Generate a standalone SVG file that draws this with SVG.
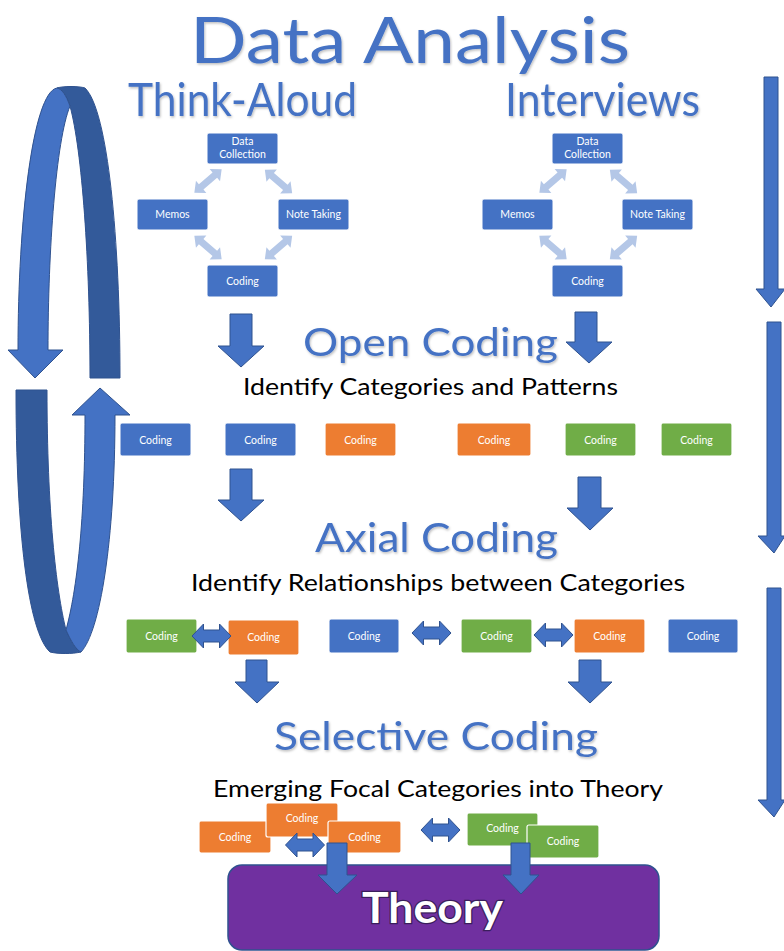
<svg xmlns="http://www.w3.org/2000/svg" xmlns:xlink="http://www.w3.org/1999/xlink" width="784" height="951" viewBox="0 0 784 951">
<defs>
<style>
.title{font-family:Lato,"Liberation Sans",sans-serif;fill:#4472C4;}
.sub{font-family:Lato,"Liberation Sans",sans-serif;fill:#000;font-size:23px;}
.lbl{font-family:Lato,"Liberation Sans",sans-serif;fill:#fff;font-size:10.5px;text-anchor:middle;}
.blue{fill:#4472C4;stroke:#fff;stroke-width:1;}
.orange{fill:#ED7D31;stroke:#fff;stroke-width:1.2;}
.green{fill:#70AD47;stroke:#fff;stroke-width:1.2;}
.barrow{fill:#4472C4;stroke:#2F528F;stroke-width:1;}
.light{fill:#B4C7E7;}
.dark{fill:#335A9A;stroke:#2F528F;stroke-width:1;}
</style>
<filter id="sh" x="-5%" y="-5%" width="110%" height="120%">
<feDropShadow dx="1" dy="1.5" stdDeviation="1" flood-color="#000" flood-opacity="0.25"/>
</filter>
<polygon id="dblL" class="light" points="-18,0 -9,-8 -9,-3.5 9,-3.5 9,-8 18,0 9,8 9,3.5 -9,3.5 -9,8"/>
<polygon id="dblB" class="barrow" points="-19.5,0 -8,-12 -8,-6 8,-6 8,-12 19.5,0 8,12 8,6 -8,6 -8,12"/>
</defs>
<rect width="784" height="951" fill="#fff"/>

<!-- Titles -->
<g id="titles" filter="url(#sh)">
<text class="title" x="190" y="63" font-size="63" textLength="440" lengthAdjust="spacingAndGlyphs">Data Analysis</text>
<text class="title" x="128" y="116" font-size="46" textLength="229" lengthAdjust="spacingAndGlyphs">Think-Aloud</text>
<text class="title" x="505" y="116" font-size="46" textLength="195" lengthAdjust="spacingAndGlyphs">Interviews</text>
<text class="title" x="303" y="356" font-size="39" textLength="255" lengthAdjust="spacingAndGlyphs">Open Coding</text>
<text class="title" x="315" y="552" font-size="40" textLength="243" lengthAdjust="spacingAndGlyphs">Axial Coding</text>
<text class="title" x="274" y="750" font-size="39" textLength="324" lengthAdjust="spacingAndGlyphs">Selective Coding</text>
</g>
<g id="subtitles">
<text class="sub" x="243" y="395" textLength="375" lengthAdjust="spacingAndGlyphs">Identify Categories and Patterns</text>
<text class="sub" x="191" y="591" textLength="494" lengthAdjust="spacingAndGlyphs">Identify Relationships between Categories</text>
<text class="sub" x="213" y="797" textLength="450" lengthAdjust="spacingAndGlyphs">Emerging Focal Categories into Theory</text>
</g>

<!-- Cycle arrow -->
<g id="cycle">
<path class="dark" d="M57,88 C63,86 79,86 85,88 C108,110 120,240 120,378 L90,378 C90,260 82,150 70,106 C66,95 62,89 57,88 Z"/>
<path class="barrow" d="M57,88 C33,92 18,220 18,350 L8,350 L35,378 L63,350 L48,350 C48,250 56,140 70,106 C66,95 62,89 57,88 Z"/>
<path class="dark" d="M16,390 L47,390 C47,510 56,590 66,630 C71,641 76,650 81,652 C72,654 58,654 50,652 C28,632 16,530 16,390 Z"/>
<path class="barrow" d="M66,630 C77,590 85,520 85,415 L72,415 L100,388 L130,415 L115,415 C115,540 100,632 81,652 C76,650 71,641 66,630 Z"/>
</g>

<!-- Left small cycle (Think-Aloud) -->
<g id="ta-data-collection"><rect class="blue" x="207" y="133" width="71" height="31" rx="2"/><text class="lbl" x="242.5" y="145">Data</text><text class="lbl" x="242.5" y="158">Collection</text></g>
<g id="ta-memos"><rect class="blue" x="137" y="199" width="71" height="31" rx="2"/><text class="lbl" x="172.5" y="218">Memos</text></g>
<g id="ta-note-taking"><rect class="blue" x="278" y="199" width="71" height="31" rx="2"/><text class="lbl" x="313.5" y="218">Note Taking</text></g>
<g id="ta-coding"><rect class="blue" x="207" y="265" width="71" height="32" rx="2"/><text class="lbl" x="242.5" y="285">Coding</text></g>

<!-- Right small cycle (Interviews) -->
<g id="iv-data-collection"><rect class="blue" x="552" y="133" width="71" height="31" rx="2"/><text class="lbl" x="587.5" y="145">Data</text><text class="lbl" x="587.5" y="158">Collection</text></g>
<g id="iv-memos"><rect class="blue" x="482" y="199" width="71" height="31" rx="2"/><text class="lbl" x="517.5" y="218">Memos</text></g>
<g id="iv-note-taking"><rect class="blue" x="622" y="199" width="71" height="31" rx="2"/><text class="lbl" x="657.5" y="218">Note Taking</text></g>
<g id="iv-coding"><rect class="blue" x="552" y="265" width="71" height="32" rx="2"/><text class="lbl" x="587.5" y="285">Coding</text></g>

<!-- Open coding row -->
<g id="oc1"><rect class="blue" x="120" y="423" width="71" height="33" rx="2"/><text class="lbl" x="155.5" y="443.5">Coding</text></g>
<g id="oc2"><rect class="blue" x="225" y="423" width="71" height="33" rx="2"/><text class="lbl" x="260.5" y="443.5">Coding</text></g>
<g id="oc3"><rect class="orange" x="325" y="423" width="71" height="33" rx="2"/><text class="lbl" x="360.5" y="443.5">Coding</text></g>
<g id="oc4"><rect class="orange" x="457" y="423" width="74" height="33" rx="2"/><text class="lbl" x="494" y="443.5">Coding</text></g>
<g id="oc5"><rect class="green" x="565" y="423" width="71" height="33" rx="2"/><text class="lbl" x="600.5" y="443.5">Coding</text></g>
<g id="oc6"><rect class="green" x="661" y="423" width="71" height="33" rx="2"/><text class="lbl" x="696.5" y="443.5">Coding</text></g>

<!-- Axial coding row -->
<g id="ac1"><rect class="green" x="126" y="619" width="71" height="34" rx="2"/><text class="lbl" x="161.5" y="639.5">Coding</text></g>
<g id="ac2"><rect class="orange" x="228" y="620" width="71" height="35" rx="2"/><text class="lbl" x="263.5" y="641">Coding</text></g>
<g id="ac3"><rect class="blue" x="329" y="619" width="70" height="34" rx="2"/><text class="lbl" x="364" y="639.5">Coding</text></g>
<g id="ac4"><rect class="green" x="461" y="619" width="71" height="34" rx="2"/><text class="lbl" x="496.5" y="639.5">Coding</text></g>
<g id="ac5"><rect class="orange" x="574" y="619" width="71" height="34" rx="2"/><text class="lbl" x="609.5" y="639.5">Coding</text></g>
<g id="ac6"><rect class="blue" x="668" y="619" width="70" height="34" rx="2"/><text class="lbl" x="703" y="639.5">Coding</text></g>

<!-- Selective coding cluster -->
<g id="sc1"><rect class="orange" x="199" y="821" width="72" height="32" rx="2"/><text class="lbl" x="235" y="840.5">Coding</text></g>
<g id="sc2"><rect class="orange" x="266" y="803" width="72" height="34" rx="2"/><text class="lbl" x="302" y="822">Coding</text></g>
<g id="sc3"><rect class="orange" x="328" y="821" width="73" height="32" rx="2"/><text class="lbl" x="364.5" y="840.5">Coding</text></g>
<g id="sc4"><rect class="green" x="467" y="813" width="71" height="33" rx="2"/><text class="lbl" x="502.5" y="832">Coding</text></g>
<g id="sc5"><rect class="green" x="527" y="825" width="72" height="33" rx="2"/><text class="lbl" x="563" y="845">Coding</text></g>

<!-- Theory -->
<g id="theory">
<rect x="228" y="865" width="431" height="85" rx="14" fill="#7030A0" stroke="#2F528F" stroke-width="1.5"/>
<text x="432.5" y="923" font-family="Lato,'Liberation Sans',sans-serif" font-weight="bold" font-size="42" fill="#fff" stroke="#3A1E5C" stroke-width="2.5" paint-order="stroke" text-anchor="middle" textLength="141" lengthAdjust="spacingAndGlyphs">Theory</text>
</g>

<!-- Connectors -->
<g id="connectors">
<use href="#dblL" transform="translate(208,181) rotate(-40.6)"/>
<use href="#dblL" transform="translate(278.5,181.5) rotate(40.6)"/>
<use href="#dblL" transform="translate(208,247.5) rotate(40.6)"/>
<use href="#dblL" transform="translate(278.5,247.5) rotate(-40.6)"/>
<use href="#dblL" transform="translate(553,181) rotate(-40.6)"/>
<use href="#dblL" transform="translate(623.5,181.5) rotate(40.6)"/>
<use href="#dblL" transform="translate(553,247.5) rotate(40.6)"/>
<use href="#dblL" transform="translate(623.5,247.5) rotate(-40.6)"/>

<polygon class="barrow" points="230,314 252,314 252,346 264,346 241,367 218,346 230,346"/>
<polygon class="barrow" points="575,312 597,312 597,342 612,342 589,363 566,342 575,342"/>
<polygon class="barrow" points="230,469 252,469 252,500 264,500 241,521 218,500 230,500"/>
<polygon class="barrow" points="578,477 601,477 601,508 613,508 590,530 567,508 578,508"/>
<polygon class="barrow" points="246,660 267,660 267,682 279,682 257,703 235,682 246,682"/>
<polygon class="barrow" points="579,660 601,660 601,682 612,682 590,703 568,682 579,682"/>

<use href="#dblB" transform="translate(211.5,636)"/>
<use href="#dblB" transform="translate(431.5,633)"/>
<use href="#dblB" transform="translate(553.5,635)"/>
<use href="#dblB" transform="translate(305,845)"/>
<use href="#dblB" transform="translate(440.5,830)"/>

<polygon class="barrow" points="327,843 347,843 347,875 357,875 337,894 318,875 327,875"/>
<polygon class="barrow" points="511,843 530,843 530,875 539,875 521,894 503,875 511,875"/>

<polygon class="barrow" points="764,77 778,77 778,289 785,289 771,307 756,289 764,289"/>
<polygon class="barrow" points="767,322 781,322 781,536 785,536 774,553 758,536 767,536"/>
<polygon class="barrow" points="767,588 781,588 781,800 785,800 774,817 758,800 767,800"/>
</g>
</svg>
